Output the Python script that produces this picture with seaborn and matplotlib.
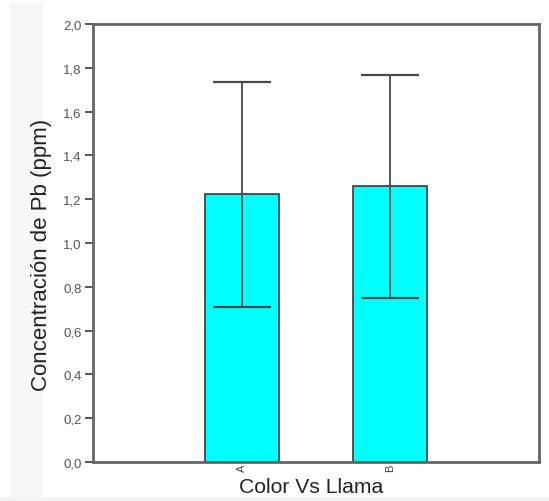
import matplotlib
matplotlib.use("Agg")
import matplotlib.pyplot as plt
import matplotlib.patches as mpatches
import seaborn as sns
import pandas as pd
import numpy as np

categories = ["A", "B"]
means = [1.223, 1.259]
upper = [1.736, 1.767]
lower = [0.709, 0.751]

y_ticks = [0.0, 0.2, 0.4, 0.6, 0.8, 1.0, 1.2, 1.4, 1.6, 1.8, 2.0]
y_tick_labels = ["0,0", "0,2", "0,4", "0,6", "0,8", "1,0", "1,2", "1,4", "1,6", "1,8", "2,0"]

sns.set_theme(style="white")
plt.rcParams['font.family'] = ['Liberation Sans', 'DejaVu Sans']

fig = plt.figure(figsize=(5.49, 5.02), dpi=100)
fig.patch.set_facecolor("white")
# faint screenshot panel background
fig.patches.append(mpatches.Rectangle((10/549, 4/502), 32/549, 494/502,
                                      transform=fig.transFigure, color="#f7f7f7", zorder=-5))
fig.patches.append(mpatches.Rectangle((0, 0), 1, 4/502,
                                      transform=fig.transFigure, color="#f4f4f4", zorder=-5))

ax = fig.add_axes([93/549, 1 - 463/502, (539 - 93)/549, (463 - 25)/502])
ax.set_zorder(1)
ax.patch.set_alpha(0)

df = pd.DataFrame({"cat": categories, "val": means})
sns.barplot(data=df, x="cat", y="val", ax=ax, color="#00FFFF", saturation=1,
            width=0.5, edgecolor="#3a3a3a", linewidth=1.2, errorbar=None)

m = np.array(means)
yerr = np.vstack([m - np.array(lower), np.array(upper) - m])
ax.errorbar(np.arange(len(categories)), m, yerr=yerr, fmt="none",
            ecolor="#4a4a4a", elinewidth=1.3, capsize=21, capthick=1.6)

ax.set_xlim(-1, 2)
ax.set_ylim(0, 2.0)
ax.set_yticks(y_ticks)
ax.set_yticklabels(y_tick_labels, fontsize=9.5, color="#555555")
ax.set_xticks(range(len(categories)))
ax.set_xticklabels(categories, rotation=90, fontsize=8, color="#444444")

ax.tick_params(axis="y", left=True, length=6, width=1.4, color="#555555", pad=2)
ax.tick_params(axis="x", bottom=False, length=0, pad=1.5)

for s in ax.spines.values():
    s.set_visible(True)
    s.set_color("#666666")
    s.set_linewidth(2)

ax.set_xlabel("Color Vs Llama", fontsize=15.2, color="#222222")
ax.set_ylabel("Concentración de Pb (ppm)", fontsize=16, color="#222222")
ax.xaxis.set_label_coords(0.489, -0.034)
ax.yaxis.set_label_coords(-0.091, 0.475)

fig.savefig("out.png", dpi=100)
